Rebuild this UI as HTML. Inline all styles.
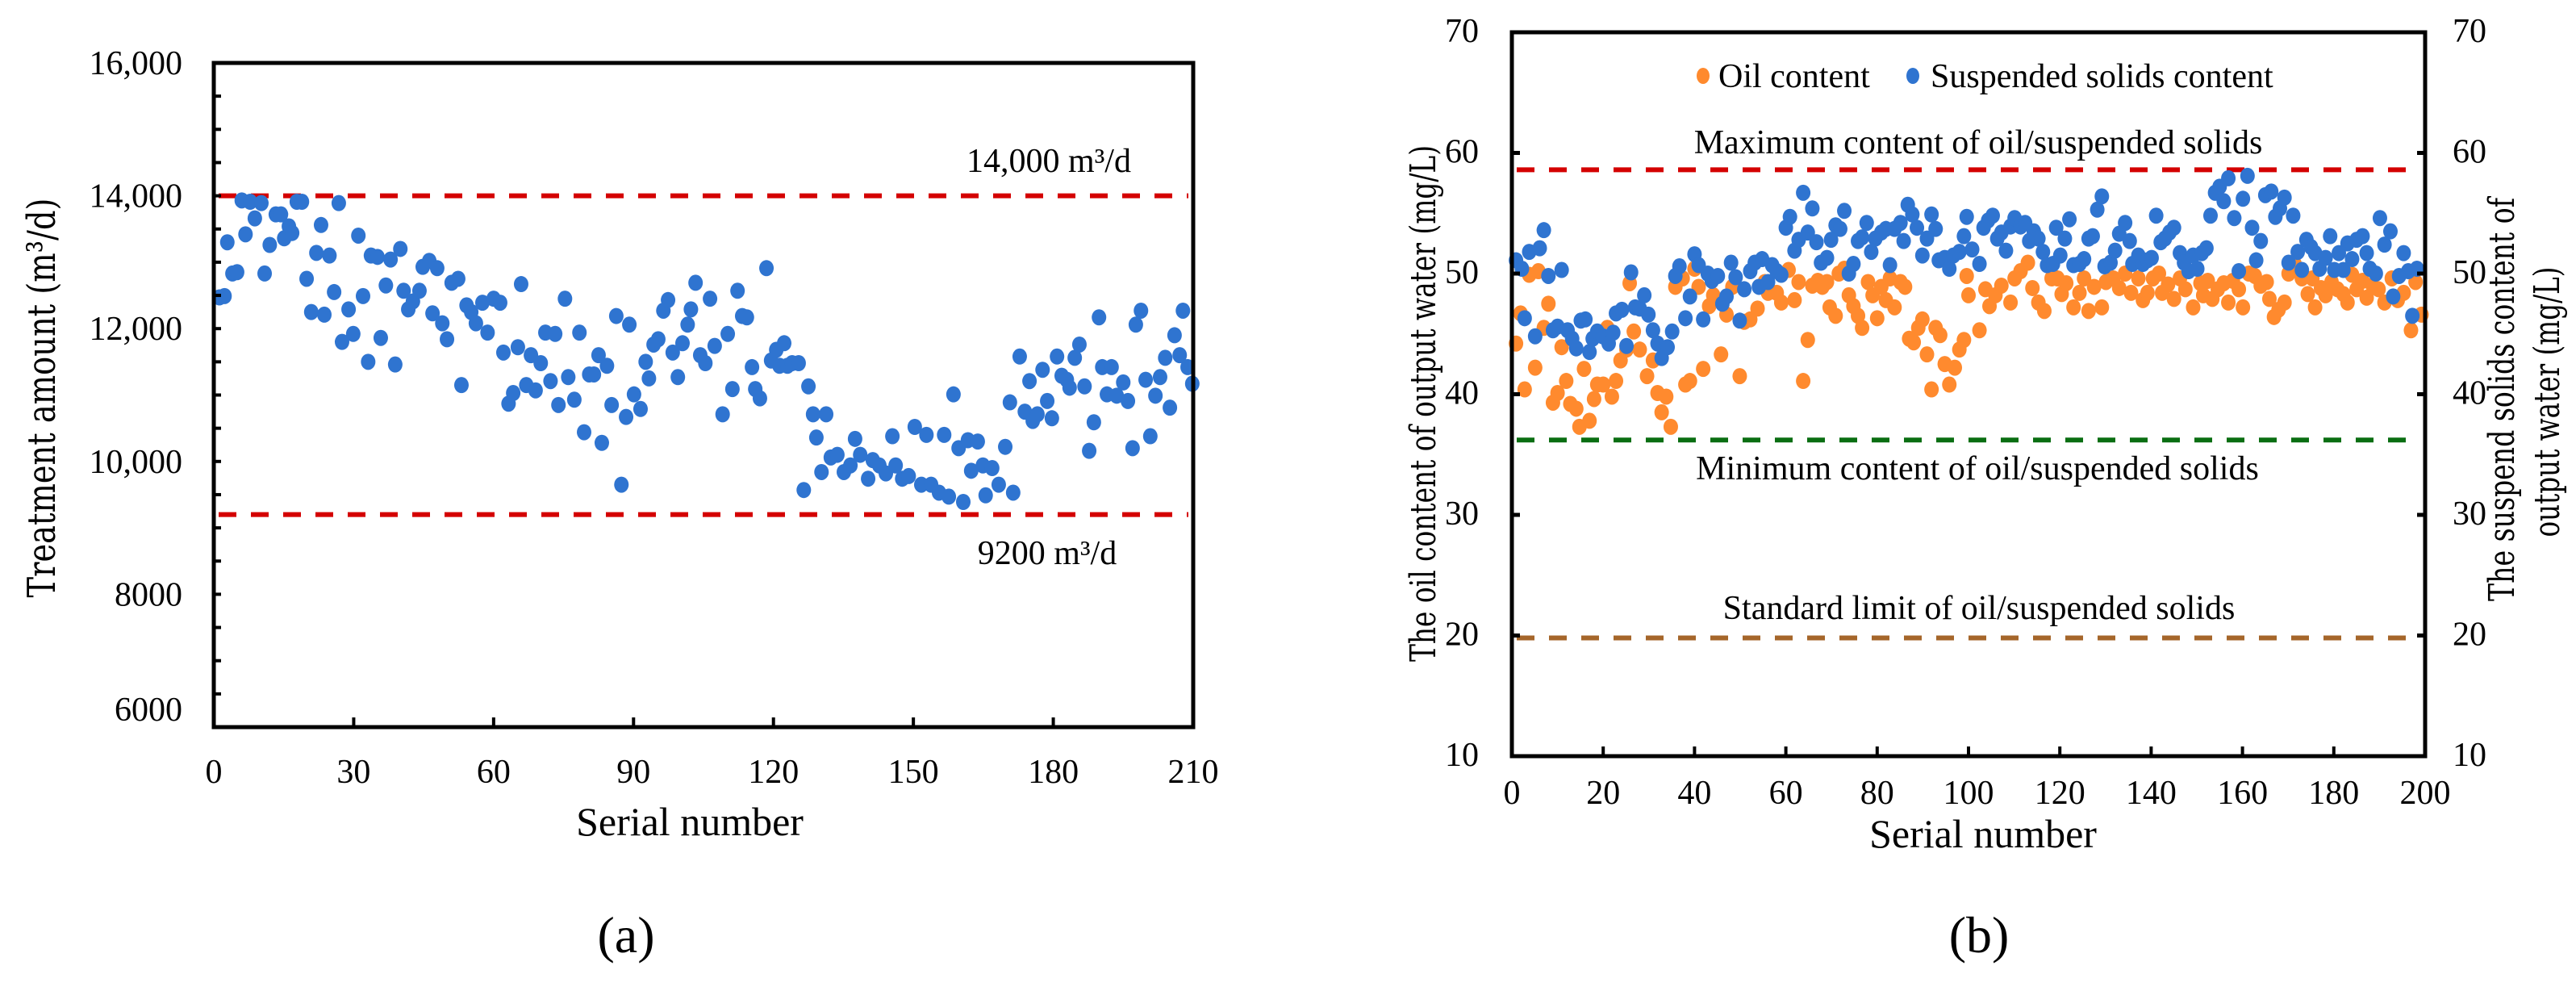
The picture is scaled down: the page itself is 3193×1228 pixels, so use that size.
<!DOCTYPE html>
<html><head><meta charset="utf-8"><style>
html,body{margin:0;padding:0;background:#fff;}
svg{display:block;font-family:"Liberation Serif","DejaVu Serif",serif;}
</style></head><body>
<svg id="fig" width="3193" height="1228" viewBox="0 0 3193 1228" xmlns="http://www.w3.org/2000/svg"></svg>
<script>
// ---------- Chart (a) data ----------
const aSerial=[1.2,2.3,2.9,4,5,6,6.8,7.8,8.8,10.2,10.9,12,13.3,14.4,15.1,16.1,16.8,17.8,18.9,19.9,20.9,22,23,23.7,24.8,25.8,26.8,27.5,28.9,29.9,31,32,33.1,33.7,35.1,35.8,36.9,37.9,38.9,40,40.7,41.7,42.7,44.1,44.8,46.2,46.9,47.9,49,50,51,52.4,53.1,54.2,55.2,56.2,57.6,58.7,60,61.4,62.1,63.2,64.2,65.2,65.9,67,68,69,70.1,71.1,72.2,73.2,73.9,75.3,76,77.3,78.4,79.4,80.5,81.5,82.5,83.2,84.3,85.3,86.3,87.4,88.4,89.1,90.1,91.5,92.6,93.3,94.3,95.3,96.4,97.4,98.4,99.5,100.5,101.6,102.3,103.3,104.3,105.4,106.4,107.4,109.1,110.2,111.2,112.3,113.3,114.3,115.4,116.1,117.1,118.5,119.5,120.6,121.3,122.3,123,124,125.4,126.5,127.5,128.5,129.2,130.3,131.3,132.3,133.7,135.1,136.5,137.5,138.6,140.3,141.3,142.7,144.1,145.5,146.2,147.6,149,150.3,151.7,152.8,153.8,155.5,156.6,157.6,158.6,159.7,160.7,161.7,162.4,163.8,164.9,165.5,166.9,168.3,169.7,170.7,171.4,172.8,173.9,174.9,175.6,176.6,177.7,178.7,179.7,180.8,181.8,182.9,183.5,184.6,185.6,186.7,187.7,188.7,189.8,190.5,191.5,192.5,193.6,195,196,197,197.7,198.8,199.8,200.8,201.9,202.9,204,205,206,207.1,207.8,208.8,209.8];
const aAmount=[12470,12490,13300,12830,12850,13930,13420,13910,13660,13890,12830,13260,13720,13720,13360,13540,13440,13910,13910,12750,12250,13140,13560,12210,13100,12550,13890,11800,12290,11920,13400,12490,11500,13100,13080,11860,12650,13040,11460,13200,12570,12290,12410,12570,12930,13020,12230,12910,12080,11840,12690,12750,11150,12350,12250,12080,12390,11940,12450,12390,11640,10870,11030,11720,12670,11150,11600,11070,11480,11940,11210,11920,10850,12450,11270,10930,11940,10440,11310,11310,11600,10280,11440,10850,12190,9650,10670,12060,11010,10790,11500,11250,11760,11840,12270,12430,11640,11270,11780,12060,12290,12690,11600,11480,12450,11740,10710,11920,11090,12570,12190,12170,11420,11090,10950,12910,11520,11680,11440,11780,11440,11480,11480,9570,11130,10710,10360,9840,10710,10060,10100,9840,9940,10340,10100,9740,10020,9940,9820,10380,9940,9740,9780,10520,9650,10400,9650,9530,10400,9470,11010,10200,9390,10320,9860,10300,9940,9490,9900,9650,10220,10890,9530,11580,10750,11210,10610,10710,11380,10910,10650,11580,11290,11230,11110,11560,11760,11130,10160,10590,12170,11420,11010,11420,10990,11190,10910,10200,12060,12270,11230,10380,10990,11270,11560,10810,11900,11600,12270,11420,11170];
const aXTicks=[0,30,60,90,120,150,180,210];
const aYTicks=[6000,8000,10000,12000,14000,16000];
const aYTickLabels=["6000","8000","10,000","12,000","14,000","16,000"];
const aLimits=[14000,9200];

// ---------- Chart (b) data ----------
const oilSerial=[0.9,1.9,2.8,3.8,5.1,5.8,7,8,9,10,10.9,11.9,12.8,14.1,14.8,15.8,17,18,18.7,20,20.9,21.9,22.8,23.8,25.1,25.8,26.7,28,29.6,30.9,31.9,32.8,33.8,34.8,35.8,37.4,38,39,40,40.9,41.9,43.2,44.1,45.8,47,48.3,49.9,50.9,52.2,53.8,55.4,56.1,58,59,60.6,61.9,62.8,63.8,64.8,65.8,67,68,69,69.6,70.9,71.6,72.8,73.8,74.8,75.8,76.7,78,79,80,80.9,81.9,82.8,83.8,85.1,86.1,87,88,89,89.9,90.9,91.9,92.8,93.8,94.8,95.8,97,98,99,99.6,100,102.4,103.7,104.6,105.9,107.2,109.2,110.1,111.4,113,114,115.3,116.6,118.2,119.5,120.4,121.4,123,124.3,125.3,126.3,127.5,129.2,130.1,131.7,133,134.3,135.6,137.2,138.2,139.2,140.4,141.7,142.4,143.7,145,146.3,147.5,149.2,150.8,151.4,152.4,153.4,154.6,155.9,156.9,157.9,159.2,160.1,161.4,162.7,164,165.3,165.9,166.9,167.9,169.2,170.1,171.4,173,174.3,175.3,175.9,177.2,178.2,179.5,180.8,182.1,183,184,185,186.3,187.2,188.5,189.8,191.1,192.7,194,195.3,196.9,197.9,199.2];
const oilValue=[44.2,46.7,40.4,49.9,42.2,50.2,45.5,47.5,39.3,40.1,43.9,41.1,39.2,38.8,37.3,42.1,37.8,39.6,40.8,40.8,45.5,39.8,41.1,42.8,43.7,49.2,45.2,43.7,41.5,42.8,40.1,38.5,39.8,37.3,48.9,49.6,40.8,41.1,50.4,48.9,42.1,47.3,48.2,43.3,46.6,48.9,41.5,46,46.2,47.1,49.3,48.4,48.4,47.6,50.3,47.8,49.3,41.1,44.5,49,49.4,48.9,49.3,47.2,46.5,50,50.4,48.2,47.3,46.5,45.5,49.3,48.2,46.3,48.9,47.8,49.6,47.2,49.3,48.9,44.6,44.3,45.5,46.2,43.3,40.4,45.5,44.9,42.5,40.8,42.2,43.7,44.5,49.8,48.2,45.3,48.7,47.3,48.2,49,47.6,49.6,50.2,50.9,48.8,47.6,46.9,49.6,49.6,48.3,49.2,47.2,48.4,49.6,46.9,48.9,47.2,49.3,49.6,48.8,50,48.4,49.6,47.8,48.4,49.6,50,48.4,49.1,47.9,49.6,48.7,47.2,49.2,48.2,49.4,47.9,48.7,49.2,47.6,49.4,48.7,47.2,50,49.8,49,49.3,47.9,46.4,47,47.6,50,50.8,49.6,48.3,49.6,47.2,48.8,48.2,49.3,48.7,48.3,47.6,49.9,48.7,49.4,48,49,48.7,47.6,49.6,47.8,48.4,45.3,49.3,46.6];
const ssSerial=[0.9,2.2,2.8,3.8,5.1,6.1,7,8,9,10,10.9,12.2,13.2,14.1,15.1,16.1,17,17.7,18.7,19.9,21.2,22.2,22.8,24.1,25.1,26.1,27,28,29,29.9,30.9,31.9,32.8,34.1,35.1,35.8,36.7,38,39,40,40.9,41.9,42.9,43.8,45.1,46.1,47,48,49,49.9,50.9,52.2,53.2,54.1,54.8,56.1,57,58,59,60,60.9,61.9,62.8,63.8,64.8,65.8,66.7,67.7,69,69.9,70.9,71.9,72.8,73.8,74.8,75.8,76.7,77.7,78.7,79.6,80.9,81.9,82.8,83.8,85.1,85.8,86.7,87.7,88.7,89.9,90.9,91.9,92.8,93.5,94.8,95.8,96.7,98,99,99.6,100.8,102.4,103.3,104.3,105.3,106.3,107.2,108.2,109.2,110.1,111.4,112.4,113.3,114.3,115.3,116.3,117.2,118.5,119.2,120.1,121.1,122.1,123,124.3,125.3,126.3,127.2,128.2,129.2,129.8,131.1,132.1,133,134.3,135.3,135.9,137.2,138.2,139.2,140.1,141.1,142.1,143,144,145,146.3,147.2,148.2,149.2,150.1,151.1,152.1,153,154,155,155.9,156.9,158.2,159.2,160.1,161.1,162.1,163,164,165,166.3,167.2,168.2,169.2,170.1,171.1,172.1,173,174,175,175.9,176.9,178.2,179.2,180.1,181.1,182.1,183,184,185,186.3,187.2,187.9,189.2,190.1,191.1,192.4,193,194.3,195.3,196.3,197.2,198.2];
const ssValue=[51.1,50.4,46.3,51.8,44.8,52.1,53.6,49.8,45.3,45.6,50.3,45.3,44.6,43.8,46.1,46.2,43.5,44.6,45.2,44.8,44.2,45.1,46.7,47,44,50.1,47.2,47.1,48.2,46.6,45.3,44.2,43,43.9,45.2,49.8,50.6,46.3,48.1,51.6,50.7,46.2,50,49.4,49.8,47.5,48.1,50.9,49.7,46.1,48.7,50.2,50.9,48.9,51.2,49.3,50.7,50.2,49.9,53.8,54.7,51.9,52.8,56.7,53.4,55.4,52.6,50.9,51.3,52.8,54,53.7,55.2,50,50.8,52.7,53,54.2,51.8,52.9,53.4,53.7,50.7,53.7,54.2,52.7,55.7,54.9,53.8,51.5,52.9,54.9,53.7,51.1,51.3,50.4,51.5,51.8,53.1,54.7,52,50.8,53.8,54.4,54.8,52.9,53.4,51.9,53.9,54.6,53.9,54.2,52.7,53.5,52.9,51.8,50.7,50.8,53.8,51.5,52.9,54.5,50.7,50.8,51.2,52.9,53.1,55.3,56.4,50.6,50.9,51.9,53.3,54.2,52.7,50.8,51.5,50.8,51.1,51.3,54.8,52.6,52.9,53.4,53.8,51.7,50.9,50.2,51.5,50.4,51.7,52.1,54.8,56.7,57.2,56,57.9,54.6,50.2,56.2,58.1,53.8,51.1,52.7,56.5,56.8,54.7,55.4,56.3,50.9,54.8,51.8,50.3,52.8,52.2,51.7,50.4,51.3,53.1,50.3,51.7,50.3,52.5,51.2,52.8,53.1,51.7,50.4,50,54.6,52.4,53.5,48.1,49.8,51.7,50.2,46.5,50.4];
const bXTicks=[0,20,40,60,80,100,120,140,160,180,200];
const bYTicks=[10,20,30,40,50,60,70];
const bLimits=[58.6,36.2,19.8];

// ---------- drawing ----------
const NS="http://www.w3.org/2000/svg";
const svg=document.getElementById('fig');
function mk(tag,attrs,parent){const e=document.createElementNS(NS,tag);for(const k in attrs)e.setAttribute(k,attrs[k]);(parent||svg).appendChild(e);return e;}
function txt(str,attrs,parent){const e=mk('text',attrs,parent);e.textContent=str;return e;}

const aL=265,aR=1479,aT=78,aB=901;
const ax=s=>aL+(s-0)/(210-0)*(aR-aL);
const ay=v=>aB-(v-6000)/(16000-6000)*(aB-aT);
const bL=1874,bR=3006,bT=40,bB=937;
const bx=s=>bL+(s-0)/(200-0)*(bR-bL);
const by=v=>bB-(v-10)/(70-10)*(bB-bT);
const RX=9,RY=10;

// ----- chart a -----
const gA=mk('g',{});


aLimits.forEach((v,i)=>{
  const l=mk('line',{x1:aL+6,x2:aR-6,y1:ay(v),y2:ay(v),stroke:'#d40000','stroke-width':6,'stroke-dasharray':'22 18'},gA);
  
  
});
const gAd=mk('g',{fill:'#2f74d0'},gA);


aSerial.forEach((s,i)=>{
  const c=mk('ellipse',{cx:ax(s),cy:ay(aAmount[i]),rx:RX,ry:RY},gAd);
  
  
});
const fa=mk('rect',{x:aL,y:aT,width:aR-aL,height:aB-aT,fill:'none',stroke:'#000','stroke-width':5},gA);


for(let v=6000;v<=16000;v+=500){
  const t=mk('line',{x1:aL,x2:aL+9,y1:ay(v),y2:ay(v),stroke:'#000','stroke-width':4},gA);
  
  
}
aYTicks.forEach((v,i)=>{
  const t=txt(aYTickLabels[i],{x:226,y:ay(v)+(v===6000?-8:14),'text-anchor':'end','font-size':42},gA);
  
  
});
aXTicks.forEach(v=>{
  if(v>0&&v<210){const t=mk('line',{x1:ax(v),x2:ax(v),y1:aB,y2:aB-12,stroke:'#000','stroke-width':4},gA);
  
  }
  const l=txt(String(v),{x:ax(v),y:970,'text-anchor':'middle','font-size':42},gA);
  
  
});
let t;
t=txt('14,000 m³/d',{x:1300,y:213,'text-anchor':'middle','font-size':42},gA);

t=txt('9200 m³/d',{x:1298,y:699,'text-anchor':'middle','font-size':42},gA);

t=txt('Serial number',{x:855,y:1035,'text-anchor':'middle','font-size':50},gA);

t=txt('Treatment amount (m³/d)',{x:0,y:0,'text-anchor':'middle','font-size':48,'font-family':'DejaVu Serif, serif',textLength:495,lengthAdjust:'spacingAndGlyphs',transform:'translate(68,493) rotate(-90)'},gA);

t=txt('(a)',{x:776,y:1180,'text-anchor':'middle','font-size':64},gA);


// ----- chart b -----
const gB=mk('g',{});


const limColors=['#d40000','#0a6e12','#a5662a'];
const limNames=['max-limit-line','min-limit-line','standard-limit-line'];
bLimits.forEach((v,i)=>{
  const l=mk('line',{x1:bL+6,x2:bR-6,y1:by(v),y2:by(v),stroke:limColors[i],'stroke-width':6,'stroke-dasharray':'22 18'},gB);
  
  
});
const gOil=mk('g',{fill:'#ff8a2e'},gB);


oilSerial.forEach((s,i)=>{
  const c=mk('ellipse',{cx:bx(s),cy:by(oilValue[i]),rx:RX,ry:RY},gOil);
  
  
});
const gSS=mk('g',{fill:'#2f74d0'},gB);


ssSerial.forEach((s,i)=>{
  const c=mk('ellipse',{cx:bx(s),cy:by(ssValue[i]),rx:RX,ry:RY},gSS);
  
  
});
const fb=mk('rect',{x:bL,y:bT,width:bR-bL,height:bB-bT,fill:'none',stroke:'#000','stroke-width':5},gB);


bYTicks.forEach(v=>{
  if(v>10&&v<70){
    const a=mk('line',{x1:bL,x2:bL+10,y1:by(v),y2:by(v),stroke:'#000','stroke-width':5},gB);
    
    const b=mk('line',{x1:bR,x2:bR-10,y1:by(v),y2:by(v),stroke:'#000','stroke-width':5},gB);
    
  }
  const l=txt(String(v),{x:1833,y:by(v)+12,'text-anchor':'end','font-size':42},gB);
  
  const r=txt(String(v),{x:3040,y:by(v)+12,'text-anchor':'start','font-size':42},gB);
  
});
bXTicks.forEach(v=>{
  if(v>0&&v<200){const tk=mk('line',{x1:bx(v),x2:bx(v),y1:bB,y2:bB-12,stroke:'#000','stroke-width':4},gB);
  }
  const l=txt(String(v),{x:bx(v),y:996,'text-anchor':'middle','font-size':42},gB);
  
});
const lg=mk('g',{},gB);

const le1=mk('g',{},lg);

mk('ellipse',{cx:2111,cy:94,rx:8,ry:10,fill:'#ff8a2e'},le1);
txt('Oil content',{x:2130,y:108,'font-size':42},le1);
const le2=mk('g',{},lg);

mk('ellipse',{cx:2371,cy:94,rx:8,ry:10,fill:'#2f74d0'},le2);
txt('Suspended solids content',{x:2393,y:108,'font-size':42},le2);

t=txt('Maximum content of oil/suspended solids',{x:2452,y:190,'text-anchor':'middle','font-size':42},gB);

t=txt('Minimum content of oil/suspended solids',{x:2451,y:594,'text-anchor':'middle','font-size':42},gB);

t=txt('Standard limit of oil/suspended solids',{x:2453,y:767,'text-anchor':'middle','font-size':42},gB);

t=txt('Serial number',{x:2458,y:1050,'text-anchor':'middle','font-size':50},gB);

t=txt('The oil content of output water (mg/L)',{x:0,y:0,'text-anchor':'middle','font-size':44,'font-family':'DejaVu Serif, serif',textLength:640,lengthAdjust:'spacingAndGlyphs',transform:'translate(1779,500) rotate(-90)'},gB);

t=txt('The suspend solids content of',{x:0,y:0,'text-anchor':'middle','font-size':44,'font-family':'DejaVu Serif, serif',textLength:500,lengthAdjust:'spacingAndGlyphs',transform:'translate(3116,495) rotate(-90)'},gB);

t=txt('output water (mg/L)',{x:0,y:0,'text-anchor':'middle','font-size':44,'font-family':'DejaVu Serif, serif',textLength:335,lengthAdjust:'spacingAndGlyphs',transform:'translate(3172,498) rotate(-90)'},gB);

t=txt('(b)',{x:2453,y:1180,'text-anchor':'middle','font-size':64},gB);

</script>
</body></html>
